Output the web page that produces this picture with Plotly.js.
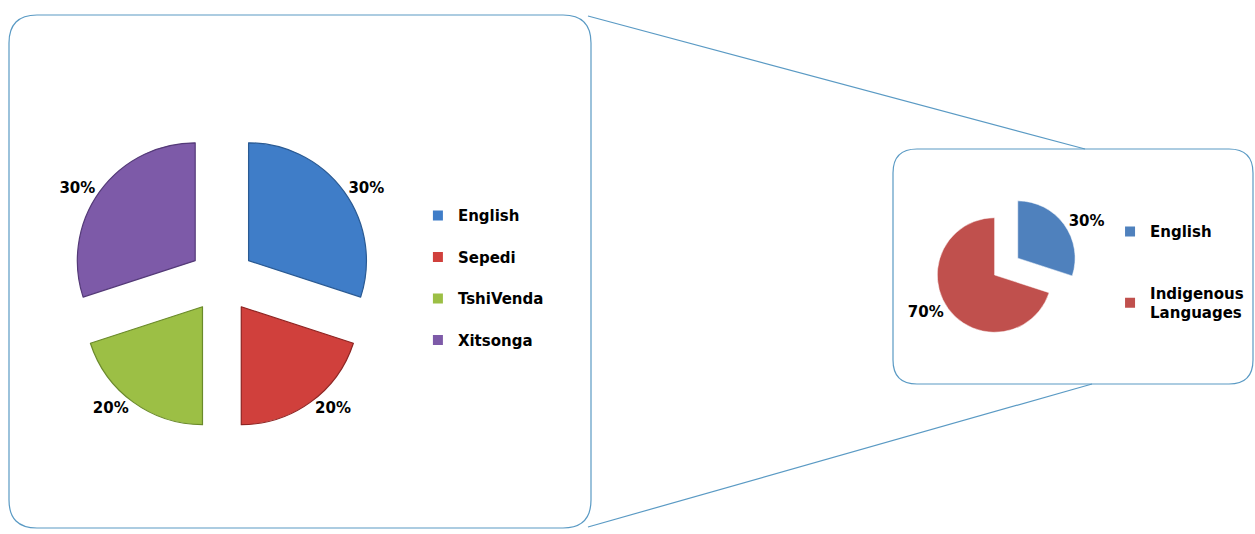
<!DOCTYPE html>
<html>
<head>
<meta charset="utf-8">
<script src="https://cdn.plot.ly/plotly-3.0.1.min.js"></script>
<style>
html,body{margin:0;padding:0;background:#fff;}
#chart{width:1255px;height:534px;}
</style>
</head>
<body>
<div id="chart"></div>
<script>
// ---- data ----
const detailLabels = ["English", "Sepedi", "TshiVenda", "Xitsonga"];
const detailValues = [30, 20, 20, 30];
const detailColors = ["#3f7dc8", "#d0403c", "#9cbf45", "#7d5aa8"];
const detailEdges  = ["#2a5a93", "#8e2422", "#6a8a2a", "#543a78"];

const summaryLabels = ["English", "Indigenous Languages"];
const summaryLegendNames = ["English", "Indigenous<br>Languages"];
const summaryValues = [30, 70];
const summaryColors = ["#4f81bd", "#c0504d"];

const FONT = "'DejaVu Sans', 'Liberation Sans', sans-serif";
const BORDER = "#5a9ac4";

const traces = [];

traces.push({
  type: "pie",
  labels: detailLabels,
  values: detailValues,
  sort: false,
  direction: "clockwise",
  rotation: 0,
  pull: detailValues.map(() => 0.28),
  marker: {colors: detailColors, line: {color: detailEdges, width: 1.2}},
  textinfo: "percent",
  textposition: "outside",
  textfont: {family: FONT, size: 15, color: "#000", weight: "bold"},
  showlegend: false,
  hoverinfo: "label+percent",
  domain: {x: [0.0566, 0.297], y: [0.193, 0.758]}
});

traces.push({
  type: "pie",
  labels: summaryLabels,
  values: summaryValues,
  sort: false,
  direction: "clockwise",
  rotation: 0,
  pull: [0.5, 0],
  marker: {colors: summaryColors, line: {color: "#ffffff", width: 0.5}},
  textinfo: "percent",
  textposition: "outside",
  textfont: {family: FONT, size: 15, color: "#000", weight: "bold"},
  showlegend: false,
  hoverinfo: "label+percent",
  domain: {x: [0.724, 0.861], y: [0.324, 0.646]}
});

// legend entries (left)
detailLabels.forEach((lab, i) => {
  traces.push({
    type: "scatter", mode: "markers", x: [null], y: [null],
    name: lab, legendgroup: "d" + i, legend: "legend",
    marker: {symbol: "square", size: 10, color: detailColors[i]},
    hoverinfo: "skip"
  });
});
// legend entries (right)
summaryLegendNames.forEach((lab, i) => {
  traces.push({
    type: "scatter", mode: "markers", x: [null], y: [null],
    name: lab, legendgroup: "s" + i, legend: "legend2",
    marker: {symbol: "square", size: 10, color: summaryColors[i]},
    hoverinfo: "skip"
  });
});

function roundRect(x0, y0, x1, y1, r) {
  return `M ${x0 + r},${y0} H ${x1 - r} Q ${x1},${y0} ${x1},${y0 + r} V ${y1 - r} Q ${x1},${y1} ${x1 - r},${y1} H ${x0 + r} Q ${x0},${y1} ${x0},${y1 - r} V ${y0 + r} Q ${x0},${y0} ${x0 + r},${y0} Z`;
}

const layout = {
  width: 1255, height: 534,
  margin: {l: 0, r: 0, t: 0, b: 0},
  paper_bgcolor: "#ffffff",
  plot_bgcolor: "rgba(0,0,0,0)",
  font: {family: FONT, color: "#000"},
  xaxis: {range: [0, 1255], visible: false, fixedrange: true},
  yaxis: {range: [534, 0], visible: false, fixedrange: true},
  showlegend: true,
  legend: {
    x: 0.333, y: 0.627, xanchor: "left", yanchor: "top",
    traceorder: "grouped", tracegroupgap: 19,
    font: {family: FONT, size: 15, color: "#000", weight: "bold"},
    bgcolor: "rgba(0,0,0,0)", itemclick: false, itemdoubleclick: false
  },
  legend2: {
    x: 0.8845, y: 0.597, xanchor: "left", yanchor: "top",
    traceorder: "grouped", tracegroupgap: 39,
    font: {family: FONT, size: 15, color: "#000", weight: "bold"},
    bgcolor: "rgba(0,0,0,0)", itemclick: false, itemdoubleclick: false
  },
  shapes: [
    {type: "path", xref: "x", yref: "y", path: roundRect(9, 15, 591, 528, 28), line: {color: BORDER, width: 1.2}, fillcolor: "rgba(0,0,0,0)", layer: "below"},
    {type: "path", xref: "x", yref: "y", path: roundRect(893, 149, 1253, 384, 24), line: {color: BORDER, width: 1.2}, fillcolor: "rgba(0,0,0,0)", layer: "below"},
    {type: "line", xref: "x", yref: "y", x0: 588, y0: 16, x1: 1085, y1: 149, line: {color: BORDER, width: 1.2}},
    {type: "line", xref: "x", yref: "y", x0: 588, y0: 527, x1: 1092, y1: 384, line: {color: BORDER, width: 1.2}}
  ]
};

Plotly.newPlot("chart", traces, layout, {displayModeBar: false, staticPlot: true});
</script>
</body>
</html>
